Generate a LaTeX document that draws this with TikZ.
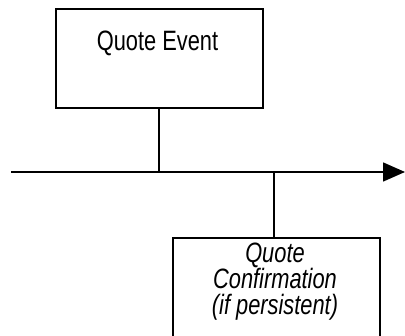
\documentclass[tikz,border=0pt]{standalone}
\usepackage{fontspec}
\setmainfont{Liberation Sans}[FakeStretch=0.78]
\usetikzlibrary{arrows.meta}
\tikzset{
  box/.style={draw, line width=1.6pt, rectangle, inner sep=0pt},
  conn/.style={line width=1.6pt},
  lbl/.style={font=\fontsize{28}{26}\selectfont, align=center, inner sep=0pt, anchor=base}
}
\begin{document}
\begin{tikzpicture}[x=1pt,y=-1pt]
\useasboundingbox (0,0) rectangle (405,336);
\clip (0,0) rectangle (405,336);
\node[box, minimum width=207pt, minimum height=99pt] (qe) at (159.5,58.5) {};
\node[lbl] (qet) at (157.5,51) {Quote Event};
\node[box, minimum width=207pt, minimum height=110pt] (qc) at (276.5,293) {};
\node[lbl, font=\fontsize{28}{26}\selectfont\itshape] (qct) at (275,315) {Quote\\Confirmation\\(if persistent)};
\coordinate (a0) at (11,172);
\coordinate (a1) at (405,172);
\coordinate (j1) at (159,172);
\coordinate (j2) at (274,172);
\draw[conn, -{Triangle[length=22pt,width=19pt]}] (a0) -- (a1);
\draw[conn] (qe.south -| j1) -- (j1);
\draw[conn] (j2) -- (j2 |- qc.north);
\end{tikzpicture}
\end{document}
